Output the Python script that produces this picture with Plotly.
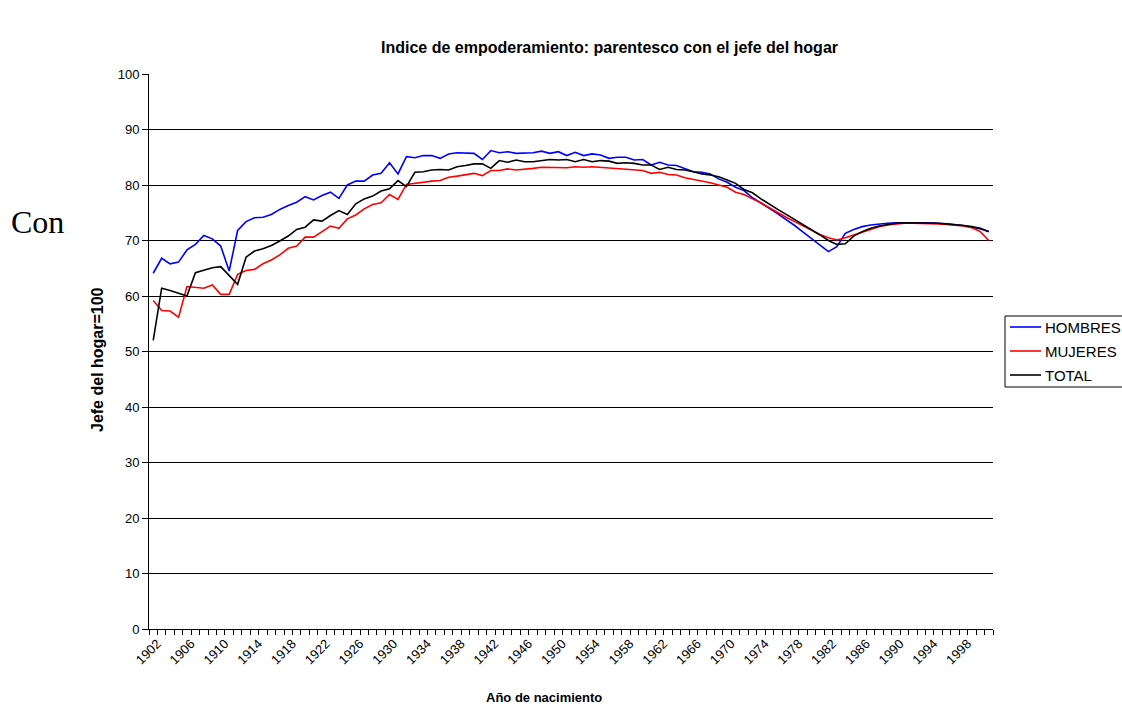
import plotly.graph_objects as go

# Birth years (one category per year)
years = list(range(1902, 2002))

hombres = [
    64.1, 66.8, 65.8, 66.1, 68.3, 69.3, 70.9, 70.3, 69.0, 64.5,
    71.8, 73.4, 74.1, 74.2, 74.7, 75.6, 76.3, 76.9, 77.9, 77.3,
    78.1, 78.7, 77.6, 80.0, 80.7, 80.7, 81.8, 82.1, 84.0, 82.0,
    85.1, 84.9, 85.3, 85.3, 84.8, 85.6, 85.8, 85.8, 85.7, 84.6,
    86.2, 85.8, 86.0, 85.7, 85.7, 85.8, 86.1, 85.7, 86.0, 85.3,
    85.9, 85.3, 85.6, 85.4, 84.8, 85.0, 85.0, 84.5, 84.6, 83.6,
    84.1, 83.6, 83.5, 83.0, 82.4, 82.3, 82.0, 81.1, 80.5, 79.6,
    79.0, 77.7, 76.8, 75.8, 74.8, 73.8, 72.7, 71.5, 70.3, 69.1,
    68.0, 68.9, 71.3, 72.0, 72.5, 72.8, 73.0, 73.1, 73.2, 73.2,
    73.3, 73.3, 73.2, 73.1, 73.0, 72.9, 72.7, 72.4, 72.1, 71.6,
]

mujeres = [
    59.2, 57.4, 57.3, 56.2, 61.7, 61.6, 61.4, 62.0, 60.3, 60.3,
    63.9, 64.6, 64.8, 65.8, 66.5, 67.4, 68.6, 69.0, 70.6, 70.6,
    71.6, 72.6, 72.2, 73.9, 74.6, 75.7, 76.5, 76.8, 78.3, 77.4,
    80.1, 80.3, 80.6, 80.7, 80.8, 81.4, 81.6, 81.8, 82.1, 81.7,
    82.6, 82.6, 82.9, 82.7, 82.8, 83.0, 83.2, 83.2, 83.2, 83.1,
    83.3, 83.2, 83.3, 83.2, 83.0, 83.0, 82.9, 82.7, 82.6, 82.1,
    82.3, 81.9, 81.8, 81.3, 81.0, 80.8, 80.4, 80.0, 79.6, 78.7,
    78.3, 77.5, 76.8, 75.9, 75.0, 74.2, 73.4, 72.6, 71.8, 71.1,
    70.5, 70.1, 70.5, 71.0, 71.6, 72.1, 72.5, 72.8, 73.0, 73.1,
    73.1, 73.1, 73.1, 73.0, 72.9, 72.8, 72.6, 72.3, 71.6, 70.0,
]

total = [
    52.0, 61.4, 61.0, 60.5, 60.0, 64.2, 64.7, 65.1, 65.3, 63.7,
    62.1, 67.0, 68.1, 68.5, 69.1, 69.9, 70.8, 72.0, 72.4, 73.7,
    73.5, 74.5, 75.4, 74.7, 76.6, 77.5, 78.0, 78.9, 79.3, 80.8,
    79.7, 82.3, 82.4, 82.7, 82.8, 82.7, 83.3, 83.5, 83.8, 83.8,
    83.0, 84.4, 84.1, 84.5, 84.2, 84.2, 84.4, 84.6, 84.5, 84.6,
    84.2, 84.6, 84.2, 84.4, 84.3, 83.9, 84.0, 83.9, 83.6, 83.6,
    82.8, 83.2, 82.8, 82.7, 82.4, 82.0, 81.8, 81.5, 80.9, 80.3,
    79.2, 78.6, 77.5, 76.5, 75.6, 74.7, 73.8, 72.8, 72.0, 71.0,
    70.0, 69.3, 69.4, 70.8, 71.6, 72.2, 72.6, 72.9, 73.1, 73.2,
    73.2, 73.2, 73.2, 73.1, 73.0, 72.9, 72.7, 72.5, 72.2, 71.6,
]

series_names = ["HOMBRES", "MUJERES", "TOTAL"]
series_colors = ["#0000FF", "#FF0000", "#000000"]

x_tick_years = list(range(1902, 2002, 4))
y_ticks = list(range(0, 101, 10))

SANS = "Liberation Sans, Arial, sans-serif"

fig = go.Figure()
for name, vals, color in zip(series_names, [hombres, mujeres, total], series_colors):
    fig.add_trace(go.Scatter(
        x=years, y=vals, name=name, mode="lines",
        line=dict(color=color, width=1.6), showlegend=False,
    ))

W, H = 1122, 706
L, R, T, B = 149, 129, 74, 77

fig.update_layout(
    width=W, height=H,
    margin=dict(l=L, r=R, t=T, b=B, autoexpand=False),
    paper_bgcolor="white", plot_bgcolor="white",
    font=dict(family=SANS, size=13, color="black"),
    showlegend=False,
    xaxis=dict(
        range=[years[0] - 0.5, years[-1] + 0.5],
        tickmode="array", tickvals=x_tick_years,
        ticktext=[str(v) for v in x_tick_years],
        tickangle=-45, ticks="outside", ticklen=5,
        tickcolor="rgba(0,0,0,0)",
        ticklabelshift=4, ticklabelstandoff=-4,
        tickfont=dict(family=SANS, size=13),
        showgrid=False, zeroline=False,
        showline=True, linecolor="black", linewidth=1,
        minor=dict(tick0=years[0] - 0.5, dtick=1, ticks="outside",
                   ticklen=5, tickcolor="black", tickwidth=1, showgrid=False),
    ),
    yaxis=dict(
        range=[0, 100], tickmode="array", tickvals=y_ticks,
        ticks="outside", ticklen=6, tickcolor="black",
        tickfont=dict(family=SANS, size=13),
        showgrid=True, gridcolor="black", gridwidth=1,
        zeroline=False, showline=True, linecolor="black", linewidth=1,
    ),
)

pw, ph = W - L - R, H - T - B

def px(xp):
    return (xp - L) / pw

def py(yp):
    return (H - B - yp) / ph

# Legend box drawn with shapes and text so it can run off the right edge
leg_left, leg_top, leg_bottom = 1005, 316, 387
leg_rows = [327, 351, 375]
fig.add_shape(type="rect", xref="paper", yref="paper",
              x0=px(leg_left), x1=px(1135), y0=py(leg_bottom), y1=py(leg_top),
              line=dict(color="black", width=1), fillcolor="white", layer="above")
for name, color, row in zip(series_names, series_colors, leg_rows):
    fig.add_shape(type="line", xref="paper", yref="paper",
                  x0=px(1010), x1=px(1041), y0=py(row), y1=py(row),
                  line=dict(color=color, width=1.6), layer="above")
    fig.add_annotation(text=name, xref="paper", yref="paper",
                       x=px(1043), y=py(row), xanchor="left", yanchor="middle",
                       showarrow=False,
                       font=dict(family=SANS, size=15, color="black"))

fig.add_annotation(
    text="<b>Indice de empoderamiento: parentesco con el jefe del hogar</b>",
    xref="paper", yref="paper", x=px(609), y=py(47),
    xanchor="center", yanchor="middle", showarrow=False,
    font=dict(family=SANS, size=16, color="black"),
)
fig.add_annotation(
    text="<b>Año de nacimiento</b>",
    xref="paper", yref="paper", x=px(544), y=py(697),
    xanchor="center", yanchor="middle", showarrow=False,
    font=dict(family=SANS, size=13, color="black"),
)
fig.add_annotation(
    text="<b>Jefe del hogar=100</b>", textangle=-90,
    xref="paper", yref="paper", x=px(97), y=py(360),
    xanchor="center", yanchor="middle", showarrow=False,
    font=dict(family=SANS, size=16, color="black"),
)
fig.add_annotation(
    text="Con",
    xref="paper", yref="paper", x=px(9), y=py(222),
    xanchor="left", yanchor="middle", showarrow=False,
    font=dict(family="Liberation Serif, Times New Roman, serif", size=32, color="black"),
)

fig.write_html("out.html")
